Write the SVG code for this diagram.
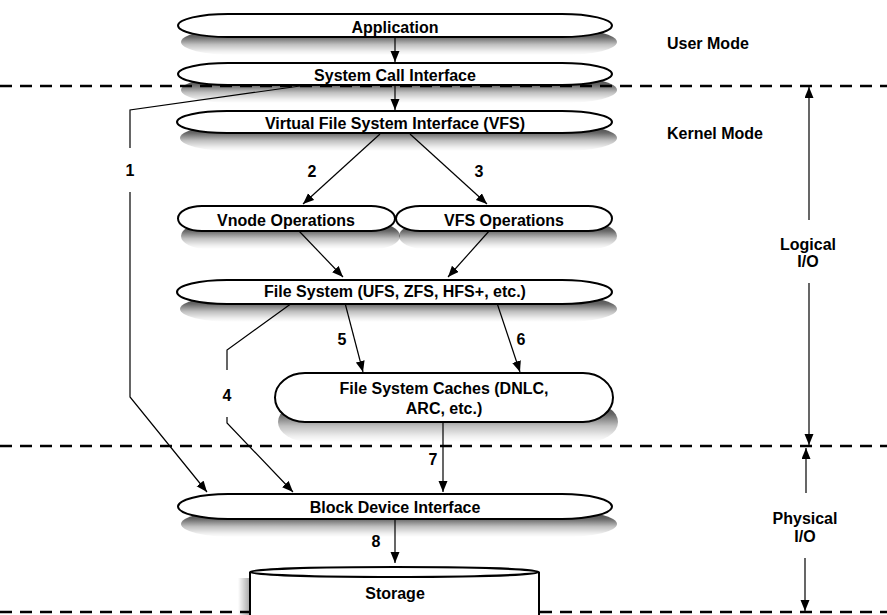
<svg xmlns="http://www.w3.org/2000/svg" width="887" height="615" viewBox="0 0 887 615">
<style>
text{font-family:"Liberation Sans",Arial,sans-serif;font-weight:bold;font-size:16px;fill:#000}
.c{text-anchor:middle}
.n{fill:#fff;stroke:#000;stroke-width:2}
.s{fill:url(#sg);stroke:none}
.dash{stroke:#000;stroke-width:2.5;stroke-dasharray:12 8;fill:none}
.ln{stroke:#000;stroke-width:1.2;fill:none}
.ar{stroke:#000;stroke-width:1.2;fill:none;marker-end:url(#ah)}
</style>
<defs>
<marker id="ah" markerUnits="userSpaceOnUse" markerWidth="12" markerHeight="10" refX="11" refY="4.5" orient="auto">
<path d="M0,0 L11,4.5 L0,9 z" fill="#000"/>
</marker>
<linearGradient id="sg" x1="0" y1="0" x2="0" y2="1">
<stop offset="0" stop-color="#000" stop-opacity="0.75"/>
<stop offset="0.3" stop-color="#000" stop-opacity="0.6"/>
<stop offset="0.6" stop-color="#000" stop-opacity="0.25"/>
<stop offset="0.85" stop-color="#000" stop-opacity="0.07"/>
<stop offset="1" stop-color="#000" stop-opacity="0"/>
</linearGradient>
<linearGradient id="sgh" x1="1" y1="0" x2="0" y2="0">
<stop offset="0" stop-color="#000" stop-opacity="0.35"/>
<stop offset="1" stop-color="#000" stop-opacity="0"/>
</linearGradient>
</defs>
<rect width="887" height="615" fill="#fff"/>
<g id="boundaries">
<line class="dash" x1="0" y1="86" x2="887" y2="86"/>
<line class="dash" x1="0" y1="446" x2="887" y2="446"/>
<line class="dash" x1="0" y1="612" x2="887" y2="612"/>
</g>
<g id="shadows">
<path class="s" d="M233,29 H565 A52,13 0 0 1 565,55 H233 A52,13 0 0 1 233,29 Z"/>
<path class="s" d="M233,77 H565 A52,13 0 0 1 565,103 H233 A52,13 0 0 1 233,77 Z"/>
<path class="s" d="M232,125 H565 A52,13 0 0 1 565,151 H232 A52,13 0 0 1 232,125 Z"/>
<path class="s" d="M207,223 H374 A26,13 0 0 1 374,249 H207 A26,13 0 0 1 207,223 Z"/>
<path class="s" d="M425,223 H591 A26,13 0 0 1 591,249 H425 A26,13 0 0 1 425,223 Z"/>
<path class="s" d="M232,296 H565 A52,13 0 0 1 565,322 H232 A52,13 0 0 1 232,296 Z"/>
<path class="s" d="M310,402 H586 A32,20 0 0 1 586,442 H310 A32,20 0 0 1 310,402 Z"/>
<path class="s" d="M233,511 H565 A52,13 0 0 1 565,537 H233 A52,13 0 0 1 233,511 Z"/>
<rect x="238" y="578" width="12" height="37" fill="url(#sgh)"/>
</g>
<g id="connectors">
<path class="ar" d="M395,37 V62"/>
<path class="ar" d="M395,85 V110"/>
<path class="ln" d="M300,86 L130,110 V148"/>
<path class="ar" d="M130,192 V397 L207,492"/>
<path class="ar" d="M380,134 L303,204"/>
<path class="ar" d="M410,134 L487,204"/>
<path class="ar" d="M299,231 L343,277"/>
<path class="ar" d="M490,230 L448,277"/>
<path class="ar" d="M345,303 L363,372"/>
<path class="ar" d="M497,303 L520,372"/>
<path class="ln" d="M292,303 L227,350 V370"/>
<path class="ar" d="M227,417 V423 L293,492"/>
<path class="ar" d="M443,422 V492"/>
<path class="ar" d="M395,519 V563"/>
<path class="ar" d="M809,220 V87"/>
<path class="ar" d="M809,283 V445"/>
<path class="ar" d="M806,493 V448"/>
<path class="ar" d="M805,558 V611"/>
</g>
<g id="labels">
<text class="c" x="130" y="176">1</text>
<text class="c" x="312" y="177">2</text>
<text class="c" x="479" y="177">3</text>
<text class="c" x="227" y="401">4</text>
<text class="c" x="342" y="345">5</text>
<text class="c" x="521" y="345">6</text>
<text class="c" x="433" y="465">7</text>
<text class="c" x="376" y="547">8</text>
<text x="667" y="49">User Mode</text>
<text x="667" y="139">Kernel Mode</text>
<text class="c" x="808" y="250">Logical</text>
<text class="c" x="808" y="267">I/O</text>
<text class="c" x="805" y="524">Physical</text>
<text class="c" x="805" y="542">I/O</text>
</g>
<g id="application">
<path class="n" d="M228,14 H562 A50,11.5 0 0 1 562,37 H228 A50,11.5 0 0 1 228,14 Z"/>
<text class="c" x="395" y="33">Application</text>
</g>
<g id="syscall">
<path class="n" d="M228,63 H562 A50,11 0 0 1 562,85 H228 A50,11 0 0 1 228,63 Z"/>
<text class="c" x="395" y="81">System Call Interface</text>
</g>
<g id="vfs">
<path class="n" d="M227,111 H562 A50,11 0 0 1 562,133 H227 A50,11 0 0 1 227,111 Z"/>
<text class="c" x="395" y="129">Virtual File System Interface (VFS)</text>
</g>
<g id="vnode-ops">
<path class="n" d="M202,206 H371 A24,12.5 0 0 1 371,231 H202 A24,12.5 0 0 1 202,206 Z"/>
<text class="c" x="286" y="226">Vnode Operations</text>
</g>
<g id="vfs-ops">
<path class="n" d="M420,206 H588 A24,12.5 0 0 1 588,231 H420 A24,12.5 0 0 1 420,206 Z"/>
<text class="c" x="504" y="226">VFS Operations</text>
</g>
<g id="filesystem">
<path class="n" d="M227,280 H562 A50,12 0 0 1 562,304 H227 A50,12 0 0 1 227,280 Z"/>
<text class="c" x="395" y="297">File System (UFS, ZFS, HFS+, etc.)</text>
</g>
<g id="caches">
<path class="n" d="M305,373 H583 A30,24.5 0 0 1 583,422 H305 A30,24.5 0 0 1 305,373 Z"/>
<text class="c" x="444" y="394">File System Caches (DNLC,</text>
<text class="c" x="444" y="414">ARC, etc.)</text>
</g>
<g id="block-device">
<path class="n" d="M228,494 H562 A50,12.5 0 0 1 562,519 H228 A50,12.5 0 0 1 228,494 Z"/>
<text class="c" x="395" y="513">Block Device Interface</text>
</g>
<g id="storage">
<path class="n" d="M250,572 A144.5,5 0 0 1 539,572 V625 H250 Z"/>
<path class="n" d="M250,572 A144.5,5 0 0 0 539,572"/>
<text class="c" x="395" y="599">Storage</text>
</g>
</svg>
